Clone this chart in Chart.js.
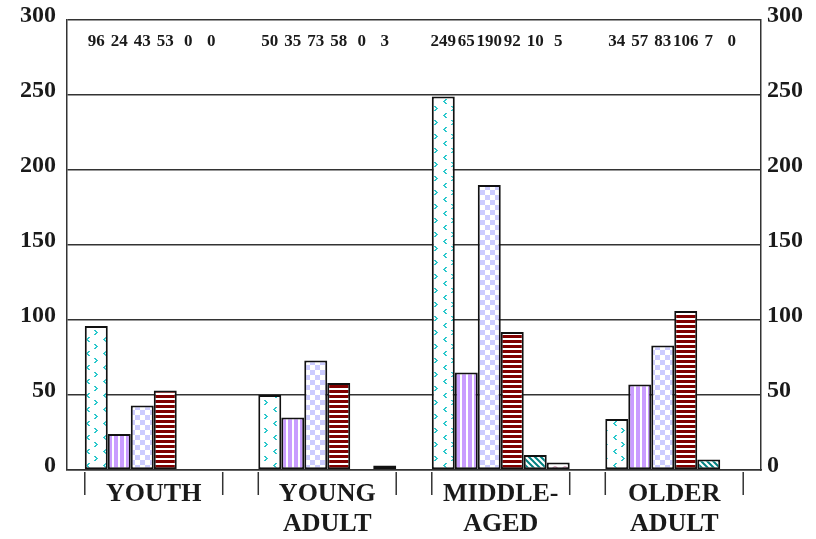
<!DOCTYPE html>
<html>
<head>
<meta charset="utf-8">
<script src="https://cdn.jsdelivr.net/npm/chart.js@4.4.1/dist/chart.umd.min.js"></script>
<style>
html,body{margin:0;padding:0;background:#fff;}
#wrap{width:816px;height:539px;}
</style>
</head>
<body>
<div id="wrap"><canvas id="c" width="816" height="539"></canvas></div>
<script>
// ---- data ----
const categories = [["YOUTH"], ["YOUNG", "ADULT"], ["MIDDLE-", "AGED"], ["OLDER", "ADULT"]];
const seriesA = [96, 50, 249, 34];
const seriesB = [24, 35, 65, 57];
const seriesC = [43, 73, 190, 83];
const seriesD = [53, 58, 92, 106];
const seriesE = [0, 0, 10, 7];
const seriesF = [0, 3, 5, 0];
const yTickValues = [0, 50, 100, 150, 200, 250, 300];

// ---- patterns ----
function makePattern(w, h, draw) {
  const c = document.createElement('canvas');
  c.width = w; c.height = h;
  const g = c.getContext('2d');
  g.fillStyle = '#fff';
  g.fillRect(0, 0, w, h);
  draw(g);
  return g.createPattern(c, 'repeat');
}
const patChevron = makePattern(17, 14, g => {
  g.fillStyle = '#2cc8cc';
  // "<"
  g.fillRect(3, 1, 2, 1); g.fillRect(2, 2, 2, 1); g.fillRect(1, 3, 2, 1); g.fillRect(2, 4, 2, 1); g.fillRect(3, 5, 2, 1);
  // ">"
  g.fillRect(9, 8, 2, 1); g.fillRect(10, 9, 2, 1); g.fillRect(11, 10, 2, 1); g.fillRect(10, 11, 2, 1); g.fillRect(9, 12, 2, 1);
});
const patVert = makePattern(6, 6, g => {
  g.fillStyle = '#c99cff';
  g.fillRect(0, 0, 4, 6);
});
const patCheck = makePattern(10, 10, g => {
  g.fillStyle = '#ccccff';
  g.fillRect(0, 0, 5, 5);
  g.fillRect(5, 5, 5, 5);
});
const patHoriz = makePattern(5, 5, g => {
  g.fillStyle = '#800000';
  g.fillRect(0, 0, 5, 3);
});
const patDiag = makePattern(6, 6, g => {
  g.strokeStyle = '#008080';
  g.lineWidth = 2;
  g.beginPath();
  g.moveTo(-1, -1); g.lineTo(7, 7);
  g.moveTo(-7, -1); g.lineTo(1, 7);
  g.moveTo(5, -1); g.lineTo(13, 7);
  g.stroke();
});
const patWave = makePattern(10, 8, g => {
  g.strokeStyle = '#b0407a';
  g.lineWidth = 1.2;
  g.beginPath();
  g.arc(5, 6, 3, Math.PI, 2 * Math.PI);
  g.stroke();
});

const FONT = '"Liberation Serif", "Times New Roman", serif';

// ---- plugin: group tick marks + top value labels ----
const extras = {
  id: 'extras',
  afterDraw(chart) {
    const ctx = chart.ctx;
    const x = chart.scales.x;
    const area = chart.chartArea;
    const catW = (x.right - x.left) / categories.length;
    const half = catW * chart.options.datasets.bar.categoryPercentage / 2;
    ctx.save();
    ctx.strokeStyle = '#333';
    ctx.lineWidth = 1.5;
    categories.forEach((c, i) => {
      const cx = x.getPixelForValue(i);
      [cx - half, cx + half].forEach(px => {
        ctx.beginPath();
        ctx.moveTo(px, area.bottom + 2);
        ctx.lineTo(px, area.bottom + 25);
        ctx.stroke();
      });
    });
    ctx.fillStyle = '#1a1a1a';
    ctx.font = 'bold 17px ' + FONT;
    ctx.textAlign = 'center';
    ctx.textBaseline = 'middle';
    chart.data.datasets.forEach((ds, di) => {
      const meta = chart.getDatasetMeta(di);
      meta.data.forEach((bar, i) => {
        ctx.fillText(String(ds.data[i]), bar.x, area.top + 22);
      });
    });
    ctx.restore();
  }
};

const mk = (data, bg) => ({ data, backgroundColor: bg, borderColor: '#111', borderWidth: 2, borderSkipped: false });
const noPad = s => { s.paddingTop = 0; s.paddingBottom = 0; s.paddingLeft = 0; s.paddingRight = 0; };

new Chart(document.getElementById('c'), {
  type: 'bar',
  data: {
    labels: categories,
    datasets: [
      mk(seriesA, patChevron),
      mk(seriesB, patVert),
      mk(seriesC, patCheck),
      mk(seriesD, patHoriz),
      mk(seriesE, patDiag),
      mk(seriesF, patWave)
    ]
  },
  options: {
    responsive: false,
    animation: false,
    datasets: { bar: { categoryPercentage: 0.795, barPercentage: 1.0 } },
    layout: { padding: { top: 20, left: 0, right: 0, bottom: 0 } },
    plugins: { legend: { display: false }, tooltip: { enabled: false } },
    scales: {
      x: {
        offset: true,
        grid: { display: false, drawTicks: false },
        border: { display: true, color: '#333', width: 1.5 },
        ticks: { color: '#1a1a1a', font: { family: FONT, size: 26, weight: 'bold', lineHeight: 1.15 }, padding: 9, maxRotation: 0, autoSkip: false },
        afterFit(s) { s.height = 69; noPad(s); }
      },
      y: {
        position: 'left',
        min: 0, max: 300,
        afterBuildTicks(s) { s.ticks = yTickValues.map(v => ({ value: v })); },
        grid: { color: '#333', lineWidth: 1.5, drawTicks: false },
        border: { display: true, color: '#333', width: 1.5 },
        ticks: { color: '#1a1a1a', font: { family: FONT, size: 24, weight: 'bold' }, padding: 11, labelOffset: -4 },
        afterFit(s) { s.width = 67; noPad(s); }
      },
      y2: {
        position: 'right',
        min: 0, max: 300,
        afterBuildTicks(s) { s.ticks = yTickValues.map(v => ({ value: v })); },
        grid: { display: false, drawTicks: false },
        border: { display: true, color: '#333', width: 1.5 },
        ticks: { color: '#1a1a1a', font: { family: FONT, size: 24, weight: 'bold' }, padding: 6, labelOffset: -4 },
        afterFit(s) { s.width = 55; noPad(s); }
      }
    }
  },
  plugins: [extras]
});
</script>
</body>
</html>
